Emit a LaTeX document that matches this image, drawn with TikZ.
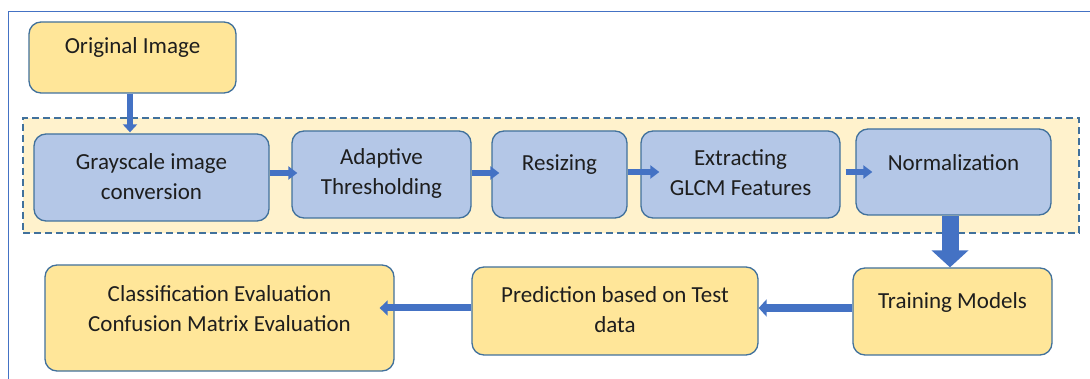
\documentclass[tikz,border=0pt]{standalone}
\usepackage{fontspec}
\setmainfont{Carlito}
\usetikzlibrary{arrows.meta,calc}
\definecolor{yfill}{HTML}{FFE699}
\definecolor{bfill}{HTML}{B4C7E7}
\definecolor{bandfill}{HTML}{FFF2CC}
\definecolor{edge}{HTML}{41719C}
\definecolor{arrowc}{HTML}{4472C4}
\definecolor{txtc}{HTML}{1E1E1E}
\tikzset{
  boxbase/.style={draw=edge, line width=1.3pt, rounded corners=12pt, inner sep=0pt},
  ybox/.style={boxbase, fill=yfill},
  bbox/.style={boxbase, fill=bfill},
  band/.style={draw=edge, line width=1.4pt, fill=bandfill, dash pattern=on 7pt off 4pt, inner sep=0pt},
  frame/.style={draw=arrowc, line width=1pt},
  txt/.style={font=\fontsize{23}{30}\selectfont, text=txtc, align=center, inner sep=0pt},
  varrow/.style={draw=arrowc, line width=6pt, -{Triangle[width=14pt,length=8pt]}},
  harrow/.style={draw=arrowc, line width=5.5pt, -{Triangle[width=13pt,length=9pt]}},
  bigarrow/.style={draw=arrowc, line width=17pt, -{Triangle[width=36pt,length=17pt]}},
  larrow/.style={draw=arrowc, line width=8pt, -{Triangle[width=17pt,length=8pt]}},
  marrow/.style={draw=arrowc, line width=7pt, -{Triangle[width=15pt,length=8pt]}}
}
\begin{document}
\begin{tikzpicture}[x=1pt,y=-1pt]
\useasboundingbox (0,0) rectangle (1090,379);
\fill[white] (0,0) rectangle (1090,379);
\coordinate (frameTR) at (1090,12);
\coordinate (frameTL) at (8,12);
\coordinate (frameBL) at (8,379);
\draw[frame] (frameTR) -- (frameTL) -- (frameBL);

\node[band, minimum width=1056pt, minimum height=115pt] (bandbox) at (551,175.5) {};

\node[ybox, minimum width=207pt, minimum height=71pt,
  label={[txt,yshift=10pt]center:Original Image}] (orig) at (132.5,57.5) {};
\node[bbox, minimum width=235pt, minimum height=87pt,
  label={[txt,yshift=0.5pt]center:Grayscale image\\conversion}] (gray) at (151.5,177.5) {};
\node[bbox, minimum width=179pt, minimum height=87pt,
  label={[txt,yshift=1.5pt]center:Adaptive\\Thresholding}] (adapt) at (381.5,174.5) {};
\node[bbox, minimum width=135pt, minimum height=87pt,
  label={[txt,yshift=9.5pt]center:Resizing}] (resize) at (559.5,174.5) {};
\node[bbox, minimum width=199pt, minimum height=87pt,
  label={[txt,yshift=1.5pt]center:Extracting\\GLCM Features}] (extract) at (740.5,174.5) {};
\node[bbox, minimum width=195pt, minimum height=86pt,
  label={[txt,yshift=9pt]center:Normalization}] (norm) at (953.5,172) {};
\node[ybox, minimum width=199pt, minimum height=87pt,
  label={[txt,yshift=9.5pt]center:Training Models}] (train) at (952.5,311.5) {};
\node[ybox, minimum width=286pt, minimum height=88pt,
  label={[txt,yshift=1pt]center:Prediction based on Test\\data}] (pred) at (615,311) {};
\node[ybox, minimum width=349pt, minimum height=106pt,
  label={[txt,yshift=9.5pt]center:Classification Evaluation\\Confusion Matrix Evaluation}] (class) at (219.5,318) {};

\draw[varrow] ([xshift=-2.5pt]orig.south) -- ([xshift=-2.5pt,yshift=1pt]orig.south |- gray.north);
\draw[harrow] ([yshift=4.5pt]gray.east) -- ([xshift=6pt,yshift=1.5pt]adapt.west);
\draw[harrow] ([yshift=1.5pt]adapt.east) -- ([xshift=8pt,yshift=1.5pt]resize.west);
\draw[harrow] ([yshift=2.5pt]resize.east) -- ([xshift=19pt,yshift=2.5pt]extract.west);
\draw[harrow] ([xshift=5pt,yshift=2.5pt]extract.east) -- ([xshift=17pt]norm.west);
\draw[bigarrow] ([xshift=-3.5pt]norm.south) -- ([xshift=-3.5pt]norm.south |- train.north);
\draw[larrow] ([yshift=3.5pt]train.west) -- ([yshift=3pt]pred.east);
\draw[marrow] ([yshift=3pt]pred.west) -- ([xshift=-15pt,yshift=10pt]class.east);
\end{tikzpicture}
\end{document}
